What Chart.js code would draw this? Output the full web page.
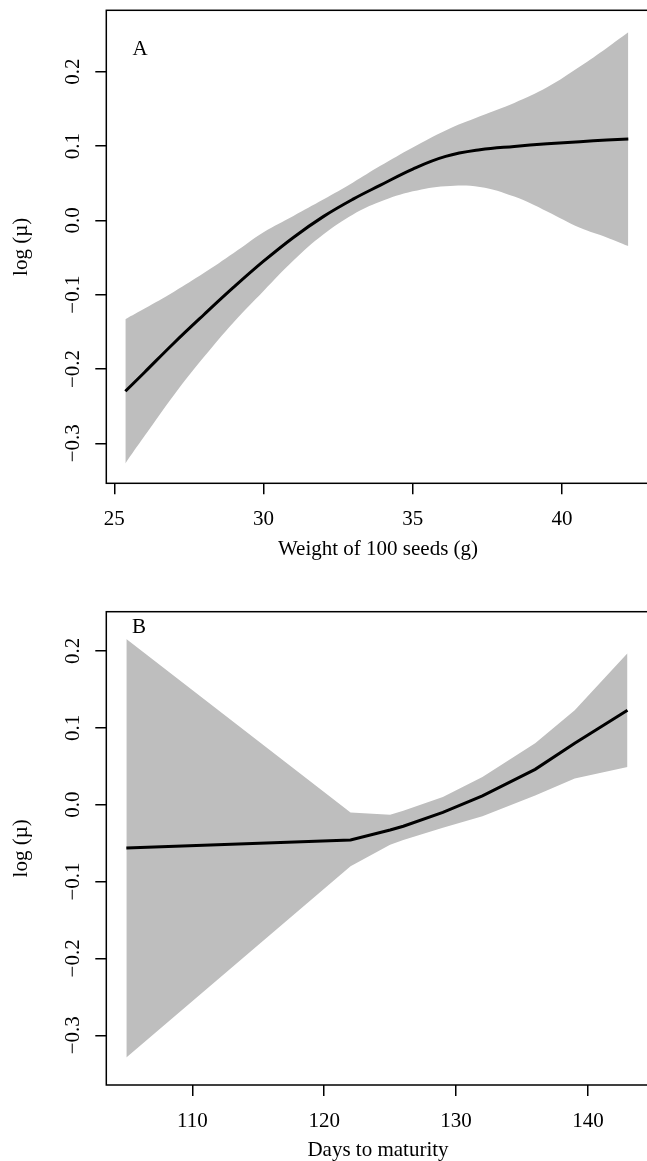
<!DOCTYPE html>
<html>
<head>
<meta charset="utf-8">
<script src="https://cdn.jsdelivr.net/npm/chart.js@4.4.1/dist/chart.umd.min.js"></script>
<style>
html, body { margin: 0; padding: 0; background: #fff; overflow: hidden; }
canvas { display: block; }
</style>
</head>
<body>
<canvas id="chart-a" width="652" height="580"></canvas>
<canvas id="chart-b" width="652" height="581"></canvas>
<script>
// panel A : weight of 100 seeds
const seedWeight = [25.37, 26, 27, 28, 29, 30, 31, 32, 33, 33.9, 35, 36.1, 37.25, 38.4, 39.5, 40.6, 41.5, 42.22]
const fitA   = [-0.230, -0.205, -0.165, -0.127, -0.090, -0.055, -0.023, 0.005, 0.0285, 0.047, 0.069, 0.086, 0.095, 0.0995, 0.103, 0.1058, 0.108, 0.1094]
const upperA = [-0.133, -0.119, -0.096, -0.071, -0.044, -0.016, 0.006, 0.028, 0.051, 0.073, 0.098, 0.121, 0.140, 0.158, 0.179, 0.207, 0.232, 0.253]
const lowerA = [-0.327, -0.291, -0.235, -0.184, -0.137, -0.095, -0.054, -0.019, 0.008, 0.025, 0.039, 0.046, 0.045, 0.032, 0.012, -0.010, -0.023, -0.0346]
const xTicksA = [25, 30, 35, 40]

// panel B : days to maturity
const days  = [105, 122, 125, 126, 129, 132, 136, 139, 143]
const fitB   = [-0.0565, -0.046, -0.033, -0.028, -0.010, 0.0115, 0.046, 0.080, 0.123]
const upperB = [0.2156, -0.010, -0.013, -0.008, 0.010, 0.036, 0.080, 0.123, 0.197]
const lowerB = [-0.329, -0.080, -0.052, -0.046, -0.030, -0.015, 0.012, 0.034, 0.049]
const xTicksB = [110, 120, 130, 140]

const yTicks = [-0.3, -0.2, -0.1, 0.0, 0.1, 0.2]

const FONT = '"Liberation Serif", "Times New Roman", serif'
const BAND = '#bebebe'

function pts(xs, ys) {
    return xs.map((x, i) => ({ x: x, y: ys[i] }))
}

function fmt(v) {
    return v.toFixed(1).replace('-', '\u2212')
}

// box, rotated y labels, titles and panel letter, R style
function frame(o) {
    return {
        id: "frame",
        afterDraw(chart) {
            const { ctx, chartArea: { left, top, right, bottom }, scales: { y } } = chart
            ctx.save()
            ctx.strokeStyle = "#000"
            ctx.lineWidth = 1.5
            ctx.strokeRect(left, top, right - left, bottom - top)

            ctx.fillStyle = "#000"
            ctx.font = "21px " + FONT
            ctx.textAlign = "center"
            ctx.textBaseline = "middle"
            y.ticks.forEach(t => {
                ctx.save()
                ctx.translate(73.3, y.getPixelForValue(t.value))
                ctx.rotate(-Math.PI / 2)
                ctx.fillText(fmt(t.value), 0, 0)
                ctx.restore()
            })

            ctx.save()
            ctx.translate(21, (top + bottom) / 2)
            ctx.rotate(-Math.PI / 2)
            ctx.fillText("log (\u00b5)", 0, 0)
            ctx.restore()

            ctx.fillText(o.xTitle, o.xTitleX, o.xTitleY)
            ctx.fillText(o.letter, o.letterX, o.letterY)
            ctx.restore()
        }
    }
}

function makeChart(id, o) {
    const ctx = document.getElementById(id).getContext("2d")
    return new Chart(ctx, {
        type: "line",
        data: {
            datasets: [{
                // fitted curve, first so it is drawn on top of the band
                data: pts(o.xs, o.fit),
                borderColor: "#000",
                borderWidth: 3,
                pointRadius: 0,
                fill: false,
                tension: o.tension
            }, {
                data: pts(o.xs, o.upper),
                borderWidth: 0,
                pointRadius: 0,
                backgroundColor: BAND,
                fill: "+1",
                tension: o.tension
            }, {
                data: pts(o.xs, o.lower),
                borderWidth: 0,
                pointRadius: 0,
                fill: false,
                tension: o.tension
            }]
        },
        options: {
            responsive: false,
            animation: false,
            events: [],
            layout: { autoPadding: false, padding: { top: o.top, right: o.padRight, left: 0, bottom: 0 } },
            plugins: { legend: { display: false }, tooltip: { enabled: false } },
            scales: {
                x: {
                    type: "linear",
                    min: o.xMin,
                    max: o.xMax,
                    afterBuildTicks: s => { s.ticks = o.xTicks.map(v => ({ value: v })) },
                    afterFit: s => { s.height = o.h - o.bottom },
                    border: { display: false },
                    grid: { drawOnChartArea: false, drawTicks: true, tickLength: 11, color: "#000", lineWidth: 1.5 },
                    ticks: {
                        color: "#000",
                        padding: o.tickPad,
                        maxRotation: 0,
                        font: { family: FONT, size: 21 },
                        callback: v => String(v)
                    }
                },
                y: {
                    type: "linear",
                    min: o.yMin,
                    max: o.yMax,
                    afterBuildTicks: s => { s.ticks = yTicks.map(v => ({ value: v })) },
                    afterFit: s => { s.width = 106.3 },
                    border: { display: false },
                    grid: { drawOnChartArea: false, drawTicks: true, tickLength: 11, color: "#000", lineWidth: 1.5 },
                    ticks: { display: false }
                }
            }
        },
        plugins: [frame(o)]
    })
}

makeChart("chart-a", {
    xs: seedWeight, fit: fitA, upper: upperA, lower: lowerA, xTicks: xTicksA,
    tension: 0.4,
    xMin: 24.732, xMax: 42.93, yMin: -0.3538, yMax: 0.2826,
    h: 580, top: 10.3, bottom: 483.3, padRight: 2.5, tickPad: 13,
    xTitle: "Weight of 100 seeds (g)", xTitleX: 378, xTitleY: 549,
    letter: "A", letterX: 140, letterY: 49
})

makeChart("chart-b", {
    xs: days, fit: fitB, upper: upperB, lower: lowerB, xTicks: xTicksB,
    tension: 0,
    xMin: 103.48, xMax: 144.67, yMin: -0.3647, yMax: 0.2511,
    h: 581, top: 31.7, bottom: 505, padRight: 2.5, tickPad: 12.5,
    xTitle: "Days to maturity", xTitleX: 378, xTitleY: 570.5,
    letter: "B", letterX: 139, letterY: 47.7
})
</script>
</body>
</html>
